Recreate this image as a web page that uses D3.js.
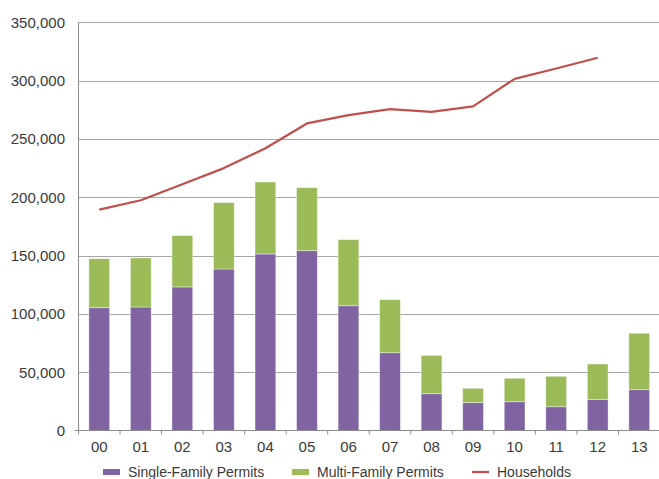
<!DOCTYPE html>
<html>
<head>
<meta charset="utf-8">
<script src="https://cdn.jsdelivr.net/npm/d3@7"></script>
<style>
  html, body { margin: 0; padding: 0; background: #fff; }
  svg { display: block; }
</style>
</head>
<body>
<div id="chart"></div>
<script>
// values
const years = ["00", "01", "02", "03", "04", "05", "06", "07", "08", "09", "10", "11", "12", "13"];
const singleFamily = [105300, 105900, 123100, 138500, 151400, 154200, 107000, 66700, 31600, 23900, 24700, 20400, 26700, 35000];
const multiFamily = [42000, 42100, 44000, 56900, 61700, 54000, 56600, 45500, 32800, 12300, 20100, 26100, 30300, 48400];
const households = [189400, 197400, 211200, 225000, 242000, 263300, 270400, 275500, 273200, 277900, 301500, 310400, 319600, null];
const yTicks = [0, 50000, 100000, 150000, 200000, 250000, 300000, 350000];

const w = 659, h = 479;
const plotL = 78.5, plotR = 660, plotT = 22.3, plotB = 430.5;
const font = "'Liberation Sans', Arial, sans-serif";
const textColor = "#3a3a3a";

const colors = { single: "#8064A2", multi: "#9BBB59", house: "#C0504D" };

let svg = d3.select("#chart")
  .append("svg")
  .attr("width", w)
  .attr("height", h)
  .attr("viewBox", [0, 0, w, h]);

let x = d3.scaleBand().domain(years).range([plotL, plotR]).padding(0);
let y = d3.scaleLinear().domain([0, 350000]).range([plotB, plotT]);
let barW = x.bandwidth() * 0.5;

// gridlines
svg.append("g")
  .selectAll("line")
  .data(yTicks.filter(d => d > 0))
  .join("line")
  .attr("x1", plotL)
  .attr("x2", w)
  .attr("y1", d => Math.round(y(d)) + 0.5)
  .attr("y2", d => Math.round(y(d)) + 0.5)
  .attr("stroke", "#a6a6a6")
  .attr("stroke-width", 1);

// y labels
svg.append("g")
  .selectAll("text")
  .data(yTicks)
  .join("text")
  .attr("x", 65)
  .attr("y", d => y(d))
  .attr("dy", "0.36em")
  .attr("text-anchor", "end")
  .style("font-family", font)
  .attr("font-size", 15)
  .attr("fill", textColor)
  .text(d => d3.format(",")(d));

// stacked bars
let rows = years.map((yr, i) => ({ yr, single: singleFamily[i], multi: multiFamily[i] }));
let stack = d3.stack().keys(["single", "multi"])(rows);

svg.append("g")
  .selectAll("g")
  .data(stack)
  .join("g")
  .attr("fill", d => colors[d.key])
  .selectAll("rect")
  .data(d => d)
  .join("rect")
  .attr("x", d => x(d.data.yr) + (x.bandwidth() - barW) / 2)
  .attr("width", barW)
  .attr("y", d => y(d[1]))
  .attr("height", d => y(d[0]) - y(d[1]))
  .attr("stroke", "#ffffff")
  .attr("stroke-opacity", 0.5)
  .attr("stroke-width", 0.8);

// axes lines
svg.append("line")
  .attr("x1", plotL).attr("x2", plotL)
  .attr("y1", plotT).attr("y2", plotB)
  .attr("stroke", "#8c8c8c");

let xAxis = svg.append("g")
  .attr("transform", `translate(0,${plotB})`)
  .call(d3.axisBottom(x).tickSize(0).tickPadding(11));
xAxis.select(".domain")
  .attr("d", `M${plotL},0H${w}`)
  .attr("stroke", "#8c8c8c");
xAxis.selectAll("text")
  .style("font-family", font)
  .attr("font-size", 15)
  .attr("fill", textColor);

// small ticks between categories
svg.append("g")
  .selectAll("line")
  .data(years.concat([null]))
  .join("line")
  .attr("x1", (d, i) => plotL + i * x.step())
  .attr("x2", (d, i) => plotL + i * x.step())
  .attr("y1", plotB)
  .attr("y2", plotB + 4)
  .attr("stroke", "#8c8c8c");
svg.append("line")
  .attr("x1", plotL - 4).attr("x2", plotL)
  .attr("y1", plotB).attr("y2", plotB)
  .attr("stroke", "#8c8c8c");

// households line
let line = d3.line()
  .defined(d => d != null)
  .x((d, i) => x(years[i]) + x.bandwidth() / 2)
  .y(d => y(d));

svg.append("path")
  .datum(households)
  .attr("d", line)
  .attr("fill", "none")
  .attr("stroke", colors.house)
  .attr("stroke-width", 2.25)
  .attr("stroke-linejoin", "round");

// legend
let legend = [
  { label: "Single-Family Permits", key: "single", x: 103, type: "rect" },
  { label: "Multi-Family Permits", key: "multi", x: 292, type: "rect" },
  { label: "Households", key: "house", x: 472, type: "line" }
];
let lg = svg.append("g").selectAll("g").data(legend).join("g");
lg.filter(d => d.type == "rect")
  .append("rect")
  .attr("x", d => d.x)
  .attr("y", 469)
  .attr("width", 17)
  .attr("height", 6)
  .attr("fill", d => colors[d.key]);
lg.filter(d => d.type == "line")
  .append("line")
  .attr("x1", d => d.x)
  .attr("x2", d => d.x + 17)
  .attr("y1", 472)
  .attr("y2", 472)
  .attr("stroke", d => colors[d.key])
  .attr("stroke-width", 2.25);
lg.append("text")
  .attr("x", d => d.x + 25)
  .attr("y", 472)
  .attr("dy", "0.36em")
  .style("font-family", font)
  .attr("font-size", 14)
  .attr("fill", textColor)
  .text(d => d.label);
</script>
</body>
</html>
